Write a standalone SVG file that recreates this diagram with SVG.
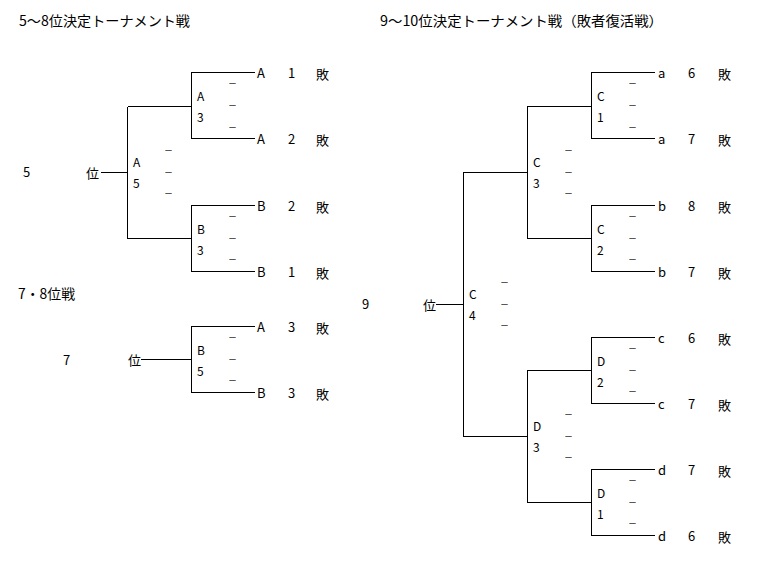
<svg xmlns="http://www.w3.org/2000/svg" width="768" height="561" viewBox="0 0 768 561">
<style>
text{font-family:"Noto Sans CJK JP","Liberation Sans",sans-serif;fill:#000}
.t{font-size:14px}
.l{font-size:12px}
.e{font-size:13px}
.d{font-size:9px}
.c{fill:none;stroke:#000;stroke-width:1}
</style>
<rect width="768" height="561" fill="#fff"/>
<text class="t" x="19" y="26" textLength="171" lengthAdjust="spacingAndGlyphs">5～8位決定トーナメント戦</text>
<text class="t" x="18" y="299" textLength="57" lengthAdjust="spacingAndGlyphs">7・8位戦</text>
<text class="t" x="380" y="26" textLength="283" lengthAdjust="spacingAndGlyphs">9～10位決定トーナメント戦（敗者復活戦）</text>

<g id="connectors" class="c" shape-rendering="crispEdges">
<path d="M255,72.5H191.5V138.5H255"/>
<path d="M127.5,106.5H191.5"/>
<path d="M191.5,238.5H127.5V106.5"/>
<path d="M255,205.5H191.5V271.5H255"/>
<path d="M101,172.5H127.5"/>
<path d="M255,326.5H191.5V392.5H255"/>
<path d="M141,359.5H191.5"/>
<path d="M655,72.5H591.5V138.5H655"/>
<path d="M655,205.5H591.5V271.5H655"/>
<path d="M591.5,106.5H527.5V238.5H591.5"/>
<path d="M527.5,172.5H463.5V436.5H527.5"/>
<path d="M436,304.5H463.5"/>
<path d="M591.5,370.5H527.5V502.5H591.5"/>
<path d="M655,337.5H591.5V403.5H655"/>
<path d="M655,469.5H591.5V535.5H655"/>
</g>

<g id="rank5"><text class="e" x="23" y="177">5</text><text class="e" x="86" y="178">位</text></g>
<g id="rank7"><text class="e" x="63" y="364.5">7</text><text class="e" x="128" y="365">位</text></g>
<g id="rank9"><text class="e" x="362" y="309">9</text><text class="e" x="423" y="310">位</text></g>

<g id="matchA3"><text class="l" x="197" y="101">A</text><text class="l" x="197" y="122">3</text><text class="d" x="228" y="87">－</text><text class="d" x="228" y="109">－</text><text class="d" x="228" y="131">－</text></g>
<g id="matchA5"><text class="l" x="133" y="167">A</text><text class="l" x="133" y="188">5</text><text class="d" x="164" y="154">－</text><text class="d" x="164" y="176">－</text><text class="d" x="164" y="197">－</text></g>
<g id="matchB3"><text class="l" x="197" y="233.5">B</text><text class="l" x="197" y="254.5">3</text><text class="d" x="228" y="219.5">－</text><text class="d" x="228" y="241.5">－</text><text class="d" x="228" y="263">－</text></g>
<g id="matchB5"><text class="l" x="197" y="354.5">B</text><text class="l" x="197" y="375.5">5</text><text class="d" x="228" y="340.5">－</text><text class="d" x="228" y="362.5">－</text><text class="d" x="228" y="384">－</text></g>

<g id="matchC1"><text class="l" x="597" y="101">C</text><text class="l" x="597" y="122">1</text><text class="d" x="628" y="87">－</text><text class="d" x="628" y="109">－</text><text class="d" x="628" y="131">－</text></g>
<g id="matchC2"><text class="l" x="597" y="233.5">C</text><text class="l" x="597" y="254.5">2</text><text class="d" x="628" y="219.5">－</text><text class="d" x="628" y="241.5">－</text><text class="d" x="628" y="263">－</text></g>
<g id="matchC3"><text class="l" x="533" y="167">C</text><text class="l" x="533" y="188">3</text><text class="d" x="564" y="154">－</text><text class="d" x="564" y="176">－</text><text class="d" x="564" y="197">－</text></g>
<g id="matchC4"><text class="l" x="469" y="299">C</text><text class="l" x="469" y="320">4</text><text class="d" x="500" y="286">－</text><text class="d" x="500" y="308">－</text><text class="d" x="500" y="329">－</text></g>
<g id="matchD2"><text class="l" x="597" y="365.5">D</text><text class="l" x="597" y="386.5">2</text><text class="d" x="628" y="351.5">－</text><text class="d" x="628" y="373.5">－</text><text class="d" x="628" y="395">－</text></g>
<g id="matchD3"><text class="l" x="533" y="431">D</text><text class="l" x="533" y="452">3</text><text class="d" x="564" y="418">－</text><text class="d" x="564" y="440">－</text><text class="d" x="564" y="461">－</text></g>
<g id="matchD1"><text class="l" x="597" y="497.5">D</text><text class="l" x="597" y="518.5">1</text><text class="d" x="628" y="483.5">－</text><text class="d" x="628" y="505.5">－</text><text class="d" x="628" y="527">－</text></g>

<g id="entA1"><text class="e" x="257" y="77.5">A</text><text class="e" x="288" y="77.5">1</text><text class="e" x="316" y="79">敗</text></g>
<g id="entA2"><text class="e" x="257" y="143.5">A</text><text class="e" x="288" y="143.5">2</text><text class="e" x="316" y="145">敗</text></g>
<g id="entB2"><text class="e" x="257" y="210.5">B</text><text class="e" x="288" y="210.5">2</text><text class="e" x="316" y="212">敗</text></g>
<g id="entB1"><text class="e" x="257" y="276.5">B</text><text class="e" x="288" y="276.5">1</text><text class="e" x="316" y="278">敗</text></g>
<g id="entA3"><text class="e" x="257" y="331.5">A</text><text class="e" x="288" y="331.5">3</text><text class="e" x="316" y="333">敗</text></g>
<g id="entB3"><text class="e" x="257" y="397.5">B</text><text class="e" x="288" y="397.5">3</text><text class="e" x="316" y="399">敗</text></g>

<g id="enta6"><text class="e" x="658" y="77.5">a</text><text class="e" x="688" y="77.5">6</text><text class="e" x="718" y="79">敗</text></g>
<g id="enta7"><text class="e" x="658" y="143.5">a</text><text class="e" x="688" y="143.5">7</text><text class="e" x="718" y="145">敗</text></g>
<g id="entb8"><text class="e" x="658" y="210.5">b</text><text class="e" x="688" y="210.5">8</text><text class="e" x="718" y="212">敗</text></g>
<g id="entb7"><text class="e" x="658" y="276.5">b</text><text class="e" x="688" y="276.5">7</text><text class="e" x="718" y="278">敗</text></g>
<g id="entc6"><text class="e" x="658" y="342.5">c</text><text class="e" x="688" y="342.5">6</text><text class="e" x="718" y="344">敗</text></g>
<g id="entc7"><text class="e" x="658" y="408.5">c</text><text class="e" x="688" y="408.5">7</text><text class="e" x="718" y="410">敗</text></g>
<g id="entd7"><text class="e" x="658" y="474.5">d</text><text class="e" x="688" y="474.5">7</text><text class="e" x="718" y="476">敗</text></g>
<g id="entd6"><text class="e" x="658" y="540.5">d</text><text class="e" x="688" y="540.5">6</text><text class="e" x="718" y="542">敗</text></g>
</svg>
